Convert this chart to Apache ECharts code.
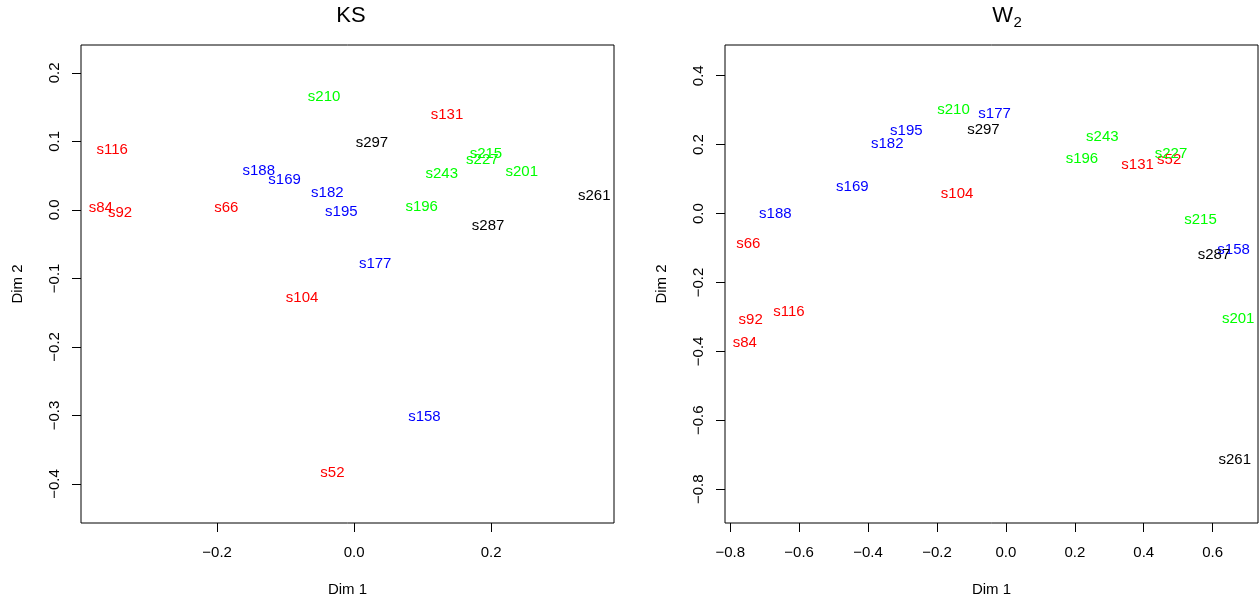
<!DOCTYPE html>
<html>
<head>
<meta charset="utf-8">
<script src="https://cdn.jsdelivr.net/npm/echarts@6/dist/echarts.min.js"></script>
<style>
  html, body { margin: 0; padding: 0; background: #fff; }
  #chart { width: 1259px; height: 603px; }
</style>
</head>
<body>
<div id="chart"></div>
<script>
// Sample labels and their colour group
const samples = ['s52', 's66', 's84', 's92', 's104', 's116', 's131',
                 's158', 's169', 's177', 's182', 's188', 's195',
                 's196', 's201', 's210', 's215', 's227', 's243',
                 's261', 's287', 's297'];
const groups  = ['red', 'red', 'red', 'red', 'red', 'red', 'red',
                 'blue', 'blue', 'blue', 'blue', 'blue', 'blue',
                 'green', 'green', 'green', 'green', 'green', 'green',
                 'black', 'black', 'black'];

// MDS coordinates from the KS distance
const ksDim1 = [-0.0317, -0.1867, -0.3699, -0.3417, -0.0760, -0.3531, 0.1356,
                 0.1026, -0.1015, 0.0307, -0.0391, -0.1392, -0.0186,
                 0.0986, 0.2447, -0.0438, 0.1924, 0.1872, 0.1279,
                 0.3506, 0.1956, 0.0260];
const ksDim2 = [-0.3840, 0.0034, 0.0034, -0.0050, -0.1280, 0.0882, 0.1393,
                -0.3020, 0.0433, -0.0795, 0.0243, 0.0575, -0.0025,
                 0.0048, 0.0560, 0.1656, 0.0823, 0.0731, 0.0520,
                 0.0209, -0.0230, 0.0984];

// MDS coordinates from the W2 distance
const w2Dim1 = [0.4737, -0.7478, -0.7576, -0.7408, -0.1416, -0.6296, 0.3823,
                0.6607, -0.4456, -0.0328, -0.3443, -0.6691, -0.2888,
                0.2206, 0.6740, -0.1520, 0.5646, 0.4790, 0.2798,
                0.6642, 0.6040, -0.0653];
const w2Dim2 = [0.1560, -0.0880, -0.3750, -0.3080, 0.0581, -0.2858, 0.1424,
               -0.1047, 0.0785, 0.2880, 0.2015, 0.0000, 0.2410,
                0.1600, -0.3060, 0.3020, -0.0174, 0.1744, 0.2238,
               -0.7160, -0.1200, 0.2440];

// Axis ranges and tick positions
const ksXRange = [-0.3987, 0.3794];
const ksYRange = [-0.4570, 0.2406];
const w2XRange = [-0.8152, 0.7316];
const w2YRange = [-0.8980, 0.4892];
const ksXTicks = [-0.2, 0.0, 0.2];
const ksYTicks = [-0.4, -0.3, -0.2, -0.1, 0.0, 0.1, 0.2];
const w2XTicks = [-0.8, -0.6, -0.4, -0.2, 0.0, 0.2, 0.4, 0.6];
const w2YTicks = [-0.8, -0.6, -0.4, -0.2, 0.0, 0.2, 0.4];

const palette = { red: '#ff0000', green: '#00ff00', blue: '#0000ff', black: '#000000' };
const FONT = '"Liberation Sans", Arial, Helvetica, sans-serif';

function fmt(v) {
  const a = Math.abs(v).toFixed(1);
  return (v < -1e-9 ? '\u2212' : '') + a;
}

function makeAxis(gridIndex, range, ticks, isY) {
  return {
    type: 'value',
    gridIndex: gridIndex,
    min: range[0],
    max: range[1],
    splitLine: { show: false },
    axisLine: { show: false, onZero: false },
    axisTick: {
      show: true, inside: false, length: 9,
      lineStyle: { color: '#000', width: 1 },
      customValues: ticks
    },
    axisLabel: {
      show: true,
      customValues: ticks,
      formatter: fmt,
      color: '#000',
      fontSize: 15,
      fontFamily: FONT,
      margin: isY ? 19 : 22,
      rotate: isY ? 90 : 0
    },
    name: isY ? 'Dim 2' : 'Dim 1',
    nameLocation: 'middle',
    nameGap: isY ? 56 : 59,
    nameTextStyle: { color: '#000', fontSize: 15, fontFamily: FONT }
  };
}

function makeSeries(idx, xs, ys) {
  return {
    type: 'scatter',
    xAxisIndex: idx,
    yAxisIndex: idx,
    symbol: 'circle',
    symbolSize: 1,
    itemStyle: { color: 'rgba(0,0,0,0)', opacity: 1 },
    silent: true,
    data: samples.map((s, i) => ({
      value: [xs[i], ys[i]],
      name: s,
      label: { color: palette[groups[i]] }
    })),
    label: {
      show: true,
      position: 'inside',
      offset: [0, 1],
      formatter: p => p.name,
      fontSize: 15,
      fontFamily: FONT,
      opacity: 1,
      textBorderWidth: 0
    },
    labelLayout: { hideOverlap: false }
  };
}

const chart = echarts.init(document.getElementById('chart'), null, { renderer: 'canvas' });

chart.setOption({
  animation: false,
  backgroundColor: '#fff',
  grid: [
    { left: 81, top: 45, width: 533, height: 478, show: true, borderColor: '#000', borderWidth: 1, backgroundColor: 'transparent' },
    { left: 725, top: 45, width: 533, height: 478, show: true, borderColor: '#000', borderWidth: 1, backgroundColor: 'transparent' }
  ],
  xAxis: [makeAxis(0, ksXRange, ksXTicks, false), makeAxis(1, w2XRange, w2XTicks, false)],
  yAxis: [makeAxis(0, ksYRange, ksYTicks, true), makeAxis(1, w2YRange, w2YTicks, true)],
  series: [makeSeries(0, ksDim1, ksDim2), makeSeries(1, w2Dim1, w2Dim2)],
  graphic: [
    { type: 'text', x: 351, y: 16, style: { text: 'KS', fontSize: 22, fontFamily: FONT, fill: '#000', align: 'center', verticalAlign: 'middle' } },
    { type: 'text', x: 1013, y: 16, style: { text: 'W', fontSize: 22, fontFamily: FONT, fill: '#000', align: 'right', verticalAlign: 'middle' } },
    { type: 'text', x: 1013.5, y: 23, style: { text: '2', fontSize: 15, fontFamily: FONT, fill: '#000', align: 'left', verticalAlign: 'middle' } }
  ]
});
</script>
</body>
</html>
